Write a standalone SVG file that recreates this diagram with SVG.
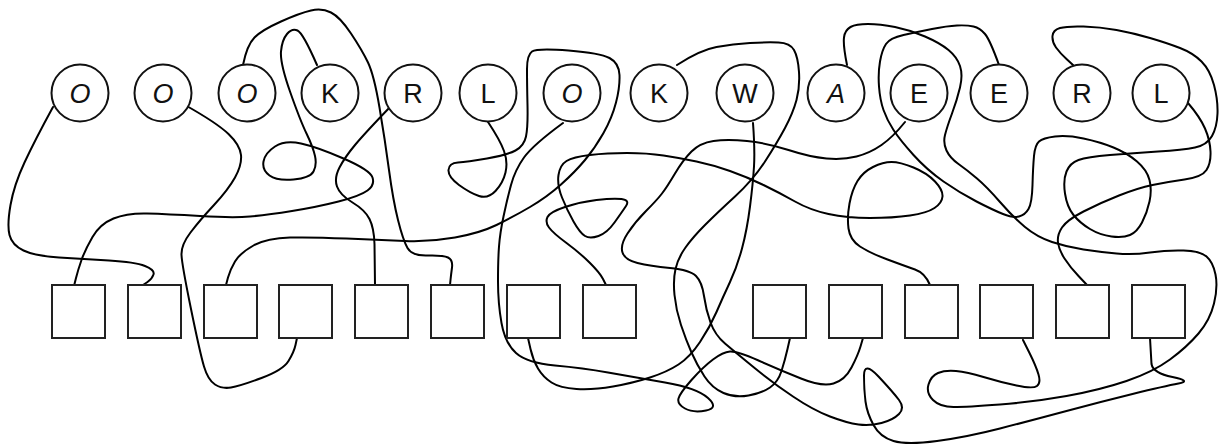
<svg xmlns="http://www.w3.org/2000/svg" width="1219" height="446" viewBox="0 0 1219 446">
<style>
.w path{fill:none;stroke:#000;stroke-width:2;stroke-linecap:round;stroke-linejoin:round}
.c circle{fill:#fff;stroke:#111;stroke-width:2}
.c text{font-family:"Liberation Sans","DejaVu Sans",sans-serif;font-size:27px;fill:#111;text-anchor:middle}
.c text.i{font-style:italic}
.s rect{fill:#fff;stroke:#222;stroke-width:2}
</style>
<rect width="1219" height="446" fill="#fff"/>
<g id="connectors" class="w">
<path d="M53,107 Q35,140 24.5,162.5 Q14,185 10.5,205 Q7,225 9.5,235 Q12,245 23.5,250.5 Q35,256 59,257.5 Q83,259 109,260.5 Q135,262 145,266 Q155,270 153.5,274.5 Q152,279 147.5,282 L143,285"/>
<path d="M185,105 Q217,123 228.5,134 Q240,145 241,155 Q242,165 235,177.5 Q228,190 214,205 Q200,220 190.5,232.5 Q181,245 181.5,255 Q182,265 191,309 Q200,353 204,366.5 Q208,380 215,384.5 Q222,389 231,387.5 Q240,386 261.5,378 Q283,370 288.5,361 Q294,352 295.5,345 L297,338"/>
<path d="M243,65 Q247,45 254.5,37.5 Q262,30 281,21.5 Q300,13 311,10.5 Q322,8 331,12.5 Q340,17 351,33.5 Q362,50 368,62.5 Q374,75 379.5,107.5 Q385,140 389,170 Q393,200 398,220 Q403,240 407.5,248 Q412,256 427.5,255.5 Q443,255 448,257.5 Q453,260 452,267.5 Q451,275 450.5,280 L450,285"/>
<path d="M317,65 Q303,33 297.5,30.5 Q292,28 287,34 Q282,40 281,51.5 Q280,63 290,91.5 Q300,120 306.5,133.5 Q313,147 315,156 Q317,165 313.5,171.5 Q310,178 293.5,179.5 Q277,181 269.5,175.5 Q262,170 263.5,161.5 Q265,153 275,146.5 Q285,140 301,143.5 Q317,147 343.5,158.5 Q370,170 372.5,177.5 Q375,185 367.5,190.5 Q360,196 338.5,201.5 Q317,207 292,211 Q267,215 250,216.5 Q233,218 200,216 Q167,214 147,213.5 Q127,213 113.5,218.5 Q100,224 92.5,237 Q85,250 81.5,260 Q78,270 76,278 L74,286"/>
<path d="M392,105 Q365,133 355,145 Q345,157 339.5,167.5 Q334,178 337,186.5 Q340,195 352.5,202.5 Q365,210 369.5,219 Q374,228 374.5,244 L375,285"/>
<path d="M488,122 Q500,140 504,151 Q508,162 505.5,172.5 Q503,183 495.5,191 Q488,199 479,196 Q470,193 459,185 Q448,177 448.5,170 Q449,163 458,162.5 Q467,162 487,158.5 Q507,155 515.5,150.5 Q524,146 526,136.5 Q528,127 527.5,105 Q527,83 527,69 Q527,55 532,51.5 Q537,48 568.5,50.5 Q600,53 609.5,58 Q619,63 619.5,75 Q620,87 616,102.5 Q612,118 603.5,133 Q595,148 585,160 Q575,172 561,184.5 Q547,197 530,207 Q513,217 496.5,225 Q480,233 455,237.5 Q430,242 405,241 Q380,240 346.5,238.5 Q313,237 290,237.5 Q267,238 253.5,245.5 Q240,253 235,261.5 Q230,270 228,277.5 L226,285"/>
<path d="M563,123 Q533,145 524,157.5 Q515,170 511,185 Q507,200 503.5,216.5 Q500,233 499,246.5 Q498,260 498,281.5 Q498,303 501.5,323 Q505,343 516,353 Q527,363 555,365.5 Q583,368 608,372.5 Q633,377 665,382.5 Q697,388 708,398 Q719,408 706,410.5 Q693,413 685,408.5 Q677,404 678.5,398.5 Q680,393 691.5,380 Q703,367 713,359.5 Q723,352 730,351.5 Q737,351 758.5,360.5 Q780,370 801,378.5 Q822,387 833.5,383.5 Q845,380 851.5,367.5 Q858,355 860.5,346.5 L863,338"/>
<path d="M677,65 Q700,50 716.5,47 Q733,44 750,43 Q767,42 778.5,42.5 Q790,43 794,50 Q798,57 799,72 Q800,87 796.5,100 Q793,113 785,128 Q777,143 765,161.5 Q753,180 735,196.5 Q717,213 705,225 Q693,237 685.5,247.5 Q678,258 675.5,269 Q673,280 674.5,295 Q676,310 681,325 Q686,340 691.5,352.5 Q697,365 704.5,376.5 Q712,388 723.5,393 Q735,398 748.5,395.5 Q762,393 770,387.5 Q778,382 781.5,371 Q785,360 787.5,349 L790,338"/>
<path d="M753,123 Q755,150 754,166.5 Q753,183 750,206.5 Q747,230 742,248.5 Q737,267 730,282 Q723,297 716.5,312 Q710,327 700,342 Q690,357 678.5,364.5 Q667,372 650,377.5 Q633,383 613,386.5 Q593,390 576.5,389 Q560,388 551.5,382.5 Q543,377 538,368.5 Q533,360 530.5,349 L528,338"/>
<path d="M905,122 Q893,137 881.5,145 Q870,153 856.5,156.5 Q843,160 826.5,158.5 Q810,157 788.5,150 Q767,143 747,141 Q727,139 713.5,141 Q700,143 691.5,151.5 Q683,160 675,173.5 Q667,187 662,193.5 Q657,200 646,211 Q635,222 627.5,233.5 Q620,245 622.5,252.5 Q625,260 637.5,263 Q650,266 670,268 Q690,270 696,276 Q702,282 704,296 Q706,310 710.5,322.5 Q715,335 725,343.5 Q735,352 754,367.5 Q773,383 793,396.5 Q813,410 830,416.5 Q847,423 858.5,424.5 Q870,426 881.5,423 Q893,420 899,414 Q905,408 899,400 Q893,392 878.5,376.5 Q864,361 864,375.5 Q864,390 865.5,401.5 Q867,413 873.5,425 Q880,437 893.5,441 Q907,445 937,441 Q967,437 1000,428.5 Q1033,420 1066.5,411 Q1100,402 1132.5,394 Q1165,386 1178.5,383.5 Q1192,381 1172.5,377 Q1153,373 1151.5,364 L1150,338"/>
<path d="M1188,103 Q1200,117 1205,128.5 Q1210,140 1210.5,151.5 Q1211,163 1206.5,170 Q1202,177 1184.5,179.5 Q1167,182 1152.5,185 Q1138,188 1119,195.5 Q1100,203 1083.5,211.5 Q1067,220 1062,227.5 Q1057,235 1058,242.5 Q1059,250 1064.5,258.5 Q1070,267 1078.5,276 L1087,285"/>
<path d="M847,65 Q843,45 844,37.5 Q845,30 850.5,27 Q856,24 868,24 Q880,24 895,27 Q910,30 925,36.5 Q940,43 948.5,50 Q957,57 960,66 Q963,75 960,87.5 Q957,100 952,113.5 Q947,127 945,135 Q943,143 946.5,150.5 Q950,158 958.5,164 Q967,170 977,178.5 Q987,187 1000,202 Q1013,217 1025,227 Q1037,237 1052,242 Q1067,247 1083.5,249.5 Q1100,252 1116.5,253.5 Q1133,255 1150,252.5 Q1167,250 1183.5,250.5 Q1200,251 1206.5,256.5 Q1213,262 1215.5,274.5 Q1218,287 1214,303.5 Q1210,320 1198.5,333.5 Q1187,347 1170,359.5 Q1153,372 1126.5,381 Q1100,390 1066.5,396 Q1033,402 1000,404.5 Q967,407 953.5,407 Q940,407 933,400 Q926,393 928.5,384.5 Q931,376 938,373 Q945,370 956,371 Q967,372 983.5,377 Q1000,382 1016.5,385.5 Q1033,389 1037,386 Q1041,383 1038.5,374.5 Q1036,366 1029.5,353 L1023,340"/>
<path d="M999,65 Q990,40 985,34 Q980,28 973.5,26.5 Q967,25 957,25.5 Q947,26 932,29 Q917,32 903.5,35 Q890,38 886,44 Q882,50 880,61.5 Q878,73 879,86.5 Q880,100 883.5,110 Q887,120 893.5,130 Q900,140 913.5,155 Q927,170 943.5,181.5 Q960,193 976.5,201.5 Q993,210 1003,214 Q1013,218 1019,216.5 Q1025,215 1028.5,209 Q1032,203 1032.5,185 Q1033,167 1034,156 Q1035,145 1039,141.5 Q1043,138 1055,136.5 Q1067,135 1083.5,138.5 Q1100,142 1113.5,147.5 Q1127,153 1137,161.5 Q1147,170 1149.5,180 Q1152,190 1149.5,201.5 Q1147,213 1142,222.5 Q1137,232 1130,235 Q1123,238 1111.5,236.5 Q1100,235 1090,229 Q1080,223 1073.5,215 Q1067,207 1065,193.5 Q1063,180 1066.5,171.5 Q1070,163 1078.5,160 Q1087,157 1110,155 Q1133,153 1158,151.5 Q1183,150 1195,147.5 Q1207,145 1212,136 Q1217,127 1217.5,113.5 Q1218,100 1214,85 Q1210,70 1201.5,61.5 Q1193,53 1180,48 Q1167,43 1150,38 Q1133,33 1116.5,30 Q1100,27 1083.5,26.5 Q1067,26 1060,28 Q1053,30 1052.5,36 Q1052,42 1056,47.5 Q1060,53 1066.5,59 L1073,65"/>
<path d="M930,285 Q925,273 915,269.5 Q905,266 887.5,259.5 Q870,253 860,246.5 Q850,240 848.5,228.5 Q847,217 849.5,203.5 Q852,190 857.5,181 Q863,172 873,167 Q883,162 891.5,162 Q900,162 913.5,167.5 Q927,173 935,181.5 Q943,190 942.5,196.5 Q942,203 934.5,208 Q927,213 910,215.5 Q893,218 870,218 Q847,218 828.5,214 Q810,210 795,201.5 Q780,193 763.5,185 Q747,177 730,171 Q713,165 696.5,161.5 Q680,158 663.5,155.5 Q647,153 627,153 Q607,153 590,155 Q573,157 566.5,161 Q560,165 558.5,175 Q557,185 562,197.5 Q567,210 573.5,221.5 Q580,233 585,236 Q590,239 598.5,236 Q607,233 614.5,222.5 Q622,212 626,206 Q630,200 621.5,199 Q613,198 596.5,200 Q580,202 565,207 Q550,212 547.5,217 Q545,222 549,227.5 Q553,233 566.5,243 Q580,253 590,263 Q600,273 603,279 L606,285"/>
</g>
<g class="c">
<g id="c1"><circle cx="80" cy="93" r="28.5"/><text class="i" x="80" y="103">O</text></g>
<g id="c2"><circle cx="163" cy="93" r="28.5"/><text class="i" x="163" y="103">O</text></g>
<g id="c3"><circle cx="247" cy="93" r="28.5"/><text class="i" x="247" y="103">O</text></g>
<g id="c4"><circle cx="330" cy="93" r="28.5"/><text x="330" y="103">K</text></g>
<g id="c5"><circle cx="413" cy="93" r="28.5"/><text x="413" y="103">R</text></g>
<g id="c6"><circle cx="488" cy="93" r="28.5"/><text x="488" y="103">L</text></g>
<g id="c7"><circle cx="572" cy="93" r="28.5"/><text class="i" x="572" y="103">O</text></g>
<g id="c8"><circle cx="659" cy="93" r="28.5"/><text x="659" y="103">K</text></g>
<g id="c9"><circle cx="745" cy="93" r="28.5"/><text x="745" y="103">W</text></g>
<g id="c10"><circle cx="836" cy="93" r="28.5"/><text class="i" x="836" y="103">A</text></g>
<g id="c11"><circle cx="919" cy="93" r="28.5"/><text x="919" y="103">E</text></g>
<g id="c12"><circle cx="999" cy="93" r="28.5"/><text x="999" y="103">E</text></g>
<g id="c13"><circle cx="1082" cy="93" r="28.5"/><text x="1082" y="103">R</text></g>
<g id="c14"><circle cx="1161" cy="93" r="28.5"/><text x="1161" y="103">L</text></g>
</g>
<g class="s">
<g id="s1"><rect x="52" y="285" width="53" height="53"/></g>
<g id="s2"><rect x="128" y="285" width="53" height="53"/></g>
<g id="s3"><rect x="204" y="285" width="53" height="53"/></g>
<g id="s4"><rect x="279" y="285" width="53" height="53"/></g>
<g id="s5"><rect x="355" y="285" width="53" height="53"/></g>
<g id="s6"><rect x="431" y="285" width="53" height="53"/></g>
<g id="s7"><rect x="507" y="285" width="53" height="53"/></g>
<g id="s8"><rect x="583" y="285" width="53" height="53"/></g>
<g id="s9"><rect x="753" y="285" width="53" height="53"/></g>
<g id="s10"><rect x="829" y="285" width="53" height="53"/></g>
<g id="s11"><rect x="905" y="285" width="53" height="53"/></g>
<g id="s12"><rect x="980" y="285" width="53" height="53"/></g>
<g id="s13"><rect x="1056" y="285" width="53" height="53"/></g>
<g id="s14"><rect x="1132" y="285" width="53" height="53"/></g>
</g>
</svg>
